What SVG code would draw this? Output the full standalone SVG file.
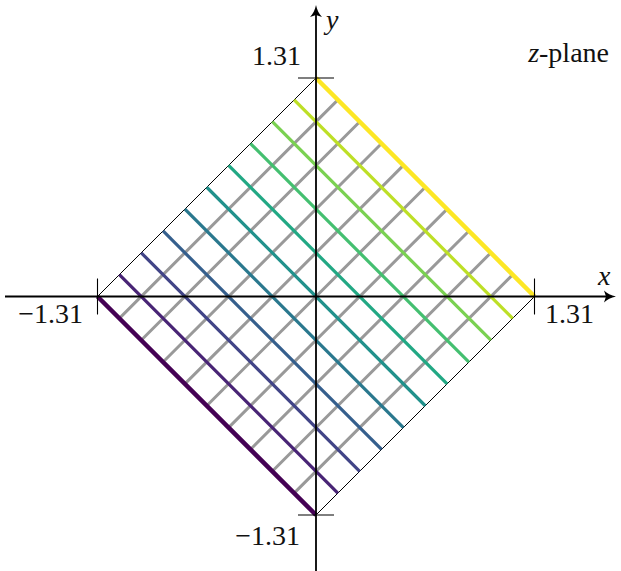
<svg xmlns="http://www.w3.org/2000/svg" width="621" height="571" viewBox="0 0 621 571">
<style>
.g{stroke:#999999;stroke-width:3;fill:none}
.c{stroke-width:3.2;fill:none}
.e{stroke-width:4.5;fill:none}
.thin{stroke:#000;stroke-width:1;fill:none}
.ax{stroke:#000;stroke-width:1.8;fill:none}
.tk{stroke:#000;stroke-width:1.1;fill:none}
.lbl{font-family:"Liberation Serif",serif;font-size:28px;fill:#111}
.it{font-style:italic}
</style>
<rect width="621" height="571" fill="#fff"/>
<g id="gray-lines" class="g">
<line x1="119.35" y1="318.35" x2="337.85" y2="99.85"/>
<line x1="141.2" y1="340.2" x2="359.7" y2="121.7"/>
<line x1="163.05" y1="362.05" x2="381.55" y2="143.55"/>
<line x1="184.9" y1="383.9" x2="403.4" y2="165.4"/>
<line x1="206.75" y1="405.75" x2="425.25" y2="187.25"/>
<line x1="228.6" y1="427.6" x2="447.1" y2="209.1"/>
<line x1="250.45" y1="449.45" x2="468.95" y2="230.95"/>
<line x1="272.3" y1="471.3" x2="490.8" y2="252.8"/>
<line x1="294.15" y1="493.15" x2="512.65" y2="274.65"/>
</g>
<g id="outline" class="thin">
<line x1="97.5" y1="296.5" x2="316" y2="78"/>
<line x1="316" y1="515" x2="534.5" y2="296.5"/>
</g>
<g id="colored-lines">
<line class="c" stroke="#482475" x1="119.35" y1="274.65" x2="337.85" y2="493.15"/>
<line class="c" stroke="#414487" x1="141.2" y1="252.8" x2="359.7" y2="471.3"/>
<line class="c" stroke="#355f8d" x1="163.05" y1="230.95" x2="381.55" y2="449.45"/>
<line class="c" stroke="#2a788e" x1="184.9" y1="209.1" x2="403.4" y2="427.6"/>
<line class="c" stroke="#21918c" x1="206.75" y1="187.25" x2="425.25" y2="405.75"/>
<line class="c" stroke="#22a884" x1="228.6" y1="165.4" x2="447.1" y2="383.9"/>
<line class="c" stroke="#44bf70" x1="250.45" y1="143.55" x2="468.95" y2="362.05"/>
<line class="c" stroke="#7ad151" x1="272.3" y1="121.7" x2="490.8" y2="340.2"/>
<line class="c" stroke="#bddf26" x1="294.15" y1="99.85" x2="512.65" y2="318.35"/>
<line class="e" stroke="#440154" x1="97.5" y1="296.5" x2="316" y2="515"/>
<line class="e" stroke="#fde725" x1="316" y1="78" x2="534.5" y2="296.5"/>
</g>
<g id="axes">
<line class="ax" x1="5" y1="296.5" x2="610" y2="296.5"/>
<path d="M616,296.5 C611,297.5 607,299.5 604,302.5 L606,296.5 L604,290.5 C607,293.5 611,295.5 616,296.5 Z" fill="#000"/>
<line class="ax" x1="316" y1="571" x2="316" y2="11"/>
<path d="M316,5 C317,10 319,14 322,17 L316,15 L310,17 C313,14 315,10 316,5 Z" fill="#000"/>
<line class="tk" x1="298" y1="78" x2="334" y2="78"/>
<line class="tk" x1="298" y1="515" x2="334" y2="515"/>
<line class="tk" x1="97.5" y1="278.5" x2="97.5" y2="314.5"/>
<line class="tk" x1="534.5" y1="278.5" x2="534.5" y2="314.5"/>
</g>
<g id="labels">
<text class="lbl it" x="326" y="29">y</text>
<text class="lbl it" x="598" y="285">x</text>
<text class="lbl" x="301" y="65" text-anchor="end">1.31</text>
<text class="lbl" x="83" y="323" text-anchor="end">−1.31</text>
<text class="lbl" x="545" y="323">1.31</text>
<text class="lbl" x="300" y="545" text-anchor="end">−1.31</text>
<text class="lbl" x="609" y="62" text-anchor="end"><tspan class="it">z</tspan>-plane</text>
</g>
</svg>
